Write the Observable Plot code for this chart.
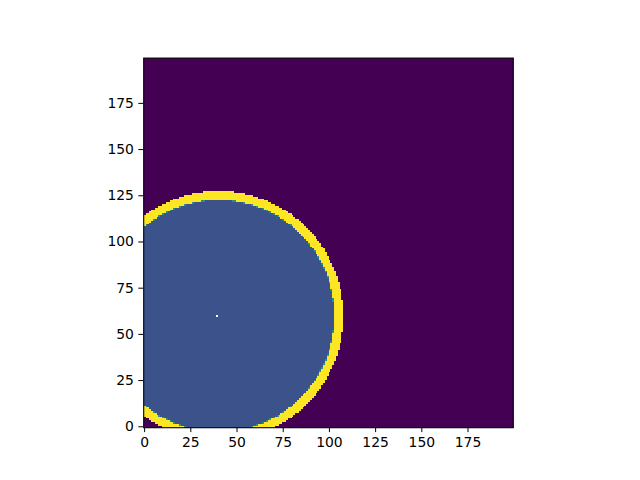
<!DOCTYPE html>
<html><head><meta charset="utf-8">
<script src="https://cdn.jsdelivr.net/npm/d3@7"></script>
<script src="https://cdn.jsdelivr.net/npm/@observablehq/plot@0.6"></script>
<style>body{margin:0;background:#fff;}</style>
</head><body><div id="chart"></div>
<script>
// grid and shape parameters
const gridSize = [200, 200];
const circleCenter = [40, 60];
const innerRadius = 62.5;
const edgeWidth = 0.3;
const ringOuterRadius = 67.5;
const holeCell = [39, 60];
// field levels (viridis 0..1)
const levelOutside = 0;
const levelInside = 0.25;
const levelEdge = 0.5;
const levelRing = 1;
const xTicks = [0, 25, 50, 75, 100, 125, 150, 175];
const yTicks = [0, 25, 50, 75, 100, 125, 150, 175];

// row-major grid, row 0 = y 0 (bottom), column 0 = x 0 (left)
const values = [];
for (let j = 0; j < gridSize[1]; j++) {
  for (let i = 0; i < gridSize[0]; i++) {
    let v;
    if (i === holeCell[0] && j === holeCell[1]) v = NaN;
    else {
      const d = Math.hypot(i - circleCenter[0], j - circleCenter[1]);
      if (d < innerRadius) v = levelInside;
      else if (d < innerRadius + edgeWidth) v = levelEdge;
      else if (d < ringOuterRadius) v = levelRing;
      else v = levelOutside;
    }
    values.push(v);
  }
}

const chart = Plot.plot({
  width: 640, height: 480,
  marginLeft: 143.2, marginRight: 127.2, marginTop: 57.6, marginBottom: 52.8,
  style: {fontFamily: "DejaVu Sans", fontSize: "13.9px", color: "black", background: "white"},
  x: {domain: [-0.5, gridSize[0] - 0.5], ticks: xTicks, tickSize: 4.9, tickPadding: 4.9, label: null},
  y: {domain: [-0.5, gridSize[1] - 0.5], ticks: yTicks, tickSize: 4.9, tickPadding: 4.9, label: null},
  color: {type: "linear", scheme: "viridis", domain: [0, 1]},
  marks: [
    Plot.raster(values, {
      fill: (d) => d,
      x1: -0.5, x2: gridSize[0] - 0.5, y1: -0.5, y2: gridSize[1] - 0.5,
      width: gridSize[0], height: gridSize[1],
      imageRendering: "pixelated"
    }),
    Plot.frame({stroke: "black", strokeWidth: 1.1})
  ]
});
document.getElementById("chart").append(chart);
</script>
</body></html>
